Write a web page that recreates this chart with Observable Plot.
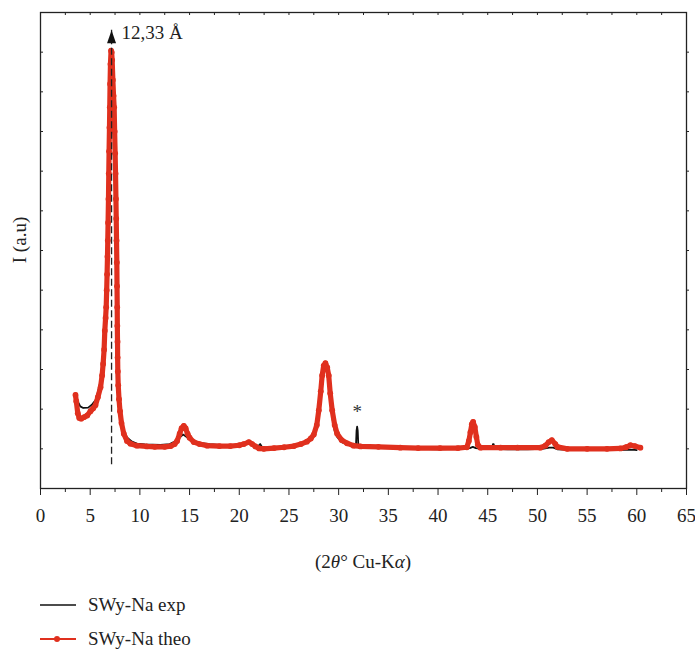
<!DOCTYPE html>
<html>
<head>
<meta charset="utf-8">
<script src="https://cdn.jsdelivr.net/npm/d3@7"></script>
<script src="https://cdn.jsdelivr.net/npm/@observablehq/plot@0.6"></script>
<style>
  html, body { margin: 0; padding: 0; background: #fff; }
  #wrap { position: relative; width: 695px; height: 650px; font-family: "Liberation Serif", "DejaVu Serif", serif; }
  .lg { position: absolute; left: 40px; height: 24px; display: flex; align-items: center; font-size: 19px; color: #222; }
  .lg span { margin-left: 12px; }
</style>
</head>
<body>
<div id="wrap"></div>
<script>
// ---- data (2θ in degrees, intensity in arbitrary units) ----
const theoX = [3.52,3.6,3.75,3.9,4.09,4.4,4.7,5.03,5.3,5.53,5.77,6.04,6.2,6.3,6.4,6.47,6.55,6.61,6.66,6.7,6.74,6.77,6.8,6.84,6.87,6.9,6.94,6.97,7.0,7.04,7.1,7.16,7.21,7.28,7.35,7.41,7.46,7.51,7.55,7.59,7.62,7.65,7.68,7.7,7.72,7.73,7.75,7.76,7.78,7.82,7.9,8.0,8.15,8.38,8.7,9.05,9.7,10.7,11.5,12.5,13.1,13.5,13.75,14.0,14.2,14.42,14.6,14.8,15.0,15.43,16.0,16.77,18.0,19.1,20.0,20.45,20.96,21.3,21.63,22.0,22.47,23.5,24.5,25.5,26.2,26.8,27.2,27.5,27.8,28.0,28.2,28.34,28.5,28.67,28.85,29.0,29.15,29.35,29.6,29.85,30.3,30.85,31.5,32.2,34.0,36.2,38.0,40.2,42.0,42.9,43.1,43.26,43.4,43.53,43.7,43.86,44.0,44.27,46.3,48.0,50.3,50.8,51.14,51.45,51.8,52.0,53.0,55.0,57.0,58.35,58.9,59.36,59.8,60.36];
const theoY = [2.36,2.2,1.9,1.78,1.76,1.8,1.84,1.95,2.02,2.1,2.3,2.55,2.85,3.14,3.5,3.98,4.3,4.57,5.0,5.4,5.85,6.25,6.7,7.3,7.94,8.5,9.1,9.61,10.2,10.7,11.04,11.0,10.8,10.3,9.9,9.61,9.0,8.45,7.94,7.3,6.8,6.25,5.7,5.1,4.57,4.1,3.7,3.3,2.95,2.6,2.25,1.95,1.65,1.38,1.2,1.13,1.08,1.06,1.05,1.05,1.07,1.12,1.2,1.38,1.52,1.58,1.52,1.38,1.28,1.17,1.12,1.08,1.07,1.07,1.09,1.12,1.17,1.12,1.06,1.01,1.0,1.02,1.04,1.07,1.12,1.18,1.26,1.36,1.6,1.97,2.45,2.85,3.1,3.16,3.05,2.85,2.4,1.97,1.6,1.38,1.22,1.14,1.08,1.06,1.05,1.03,1.02,1.02,1.02,1.04,1.2,1.42,1.62,1.68,1.55,1.3,1.1,1.03,1.03,1.03,1.03,1.08,1.17,1.22,1.12,1.05,1.0,1.0,1.0,1.01,1.04,1.09,1.07,1.03];

const expX = [3.55,3.7,4.0,4.3,4.8,5.2,5.53,5.8,6.04,6.3,6.47,6.61,6.77,6.87,6.97,7.04,7.1,7.21,7.41,7.55,7.65,7.72,7.76,7.82,7.95,8.1,8.38,8.7,9.2,9.7,10.5,12.07,13.0,13.4,13.9,14.2,14.35,14.6,15.0,15.4,16.0,17.0,18.0,19.0,20.0,20.5,21.0,21.5,21.9,22.1,22.3,23.0,24.5,25.5,26.2,26.8,27.2,27.5,27.8,28.0,28.2,28.34,28.5,28.67,28.85,29.0,29.15,29.35,29.6,29.85,30.3,30.85,31.5,31.74,31.8,31.86,31.92,31.98,32.5,34.0,36.0,38.0,40.0,42.0,43.2,43.5,43.8,44.5,45.45,45.52,45.6,45.67,47.0,49.0,50.5,51.2,51.6,52.0,54.0,56.0,58.0,59.5,60.0];
const expY = [2.3,2.22,2.07,2.03,2.04,2.12,2.22,2.45,2.72,3.2,3.98,4.57,6.25,7.94,9.61,10.7,11.0,10.8,9.6,7.94,6.25,4.57,3.3,2.6,2.15,1.8,1.45,1.29,1.18,1.13,1.11,1.1,1.12,1.17,1.25,1.33,1.36,1.32,1.25,1.21,1.15,1.12,1.1,1.08,1.09,1.13,1.15,1.1,1.07,1.12,1.04,1.01,1.03,1.06,1.1,1.15,1.22,1.32,1.55,1.9,2.45,2.85,3.1,3.16,3.05,2.8,2.3,1.8,1.45,1.3,1.17,1.11,1.07,1.07,1.45,1.56,1.45,1.07,1.05,1.04,1.02,1.0,0.99,1.0,1.02,1.05,1.02,1.0,1.0,1.12,1.12,1.0,0.99,0.99,1.0,1.03,1.03,0.99,0.97,0.97,0.97,0.98,0.97];

const seriesNames = ["SWy-Na exp", "SWy-Na theo"];
const xMajorTicks = [0,5,10,15,20,25,30,35,40,45,50,55,60,65];
const xMinorTicks = [2.5,7.5,12.5,17.5,22.5,27.5,32.5,37.5,42.5,47.5,52.5,57.5,62.5];
const yTicks = [1,2,3,4,5,6,7,8,9,10,11];
const peakLabel = ["12,33 Å"];
const peakX = [7.15];
const peakYBase = [0.85];
const peakYTip = [11.55];
const starX = [31.86];
const starY = [1.92];
const xLabelParts = [["(2", false], ["θ", true], ["° Cu-K", false], ["α", true], [")", false]];
const yLabel = "I (a.u)";

const red = "#e0301e";
const theo = theoX.map((x, i) => ({x, y: theoY[i]}));
const exp = expX.map((x, i) => ({x, y: expY[i]}));
const peak = [{x: peakX[0], y0: peakYBase[0], y1: peakYTip[0], label: peakLabel[0]}];
const star = [{x: starX[0], y: starY[0]}];

const arrowHead = {
  draw(ctx) {
    ctx.moveTo(0, 0);
    ctx.lineTo(-4.5, 13);
    ctx.lineTo(4.5, 13);
    ctx.closePath();
  }
};

const W = 695, H = 580, mL = 40, mR = 9, mT = 12, mB = 92;
const innerW = W - mL - mR, innerH = H - mT - mB;

const chart = Plot.plot({
  width: W, height: H,
  marginLeft: mL, marginRight: mR, marginTop: mT, marginBottom: mB,
  style: {fontFamily: "Liberation Serif", fontSize: "19px", background: "white", color: "#222"},
  x: {domain: [0, 65]},
  y: {domain: [0, 12]},
  marks: [
    Plot.line(exp, {x: "x", y: "y", stroke: "#111", strokeWidth: 1.8, curve: "linear"}),
    Plot.line(theo, {x: "x", y: "y", stroke: red, strokeWidth: 5.2, strokeLinejoin: "round", strokeLinecap: "round"}),
    Plot.dot(theo, {x: "x", y: "y", r: 2.9, fill: red, stroke: null}),
    Plot.ruleX(peak, {x: "x", y1: "y0", y2: "y1", stroke: "#222", strokeWidth: 1.3, strokeDasharray: "7,3.5", insetTop: 10}),
    Plot.dot(peak, {x: "x", y: "y1", symbol: arrowHead, fill: "#111", stroke: null}),
    Plot.text(peak, {x: "x", y: "y1", text: "label", textAnchor: "start", dx: 10, dy: 3, fontSize: 19, fill: "#222"}),
    Plot.text(star, {x: "x", y: "y", text: () => "*", fontSize: 19, fill: "#333"}),
    Plot.frame({stroke: "#222", strokeWidth: 1.3}),
    Plot.axisX({ticks: xMajorTicks, tickSize: 7, tickPadding: 13, label: null, tickFormat: d => String(d), fontSize: 19}),
    Plot.axisX({ticks: xMinorTicks, tickSize: 4, label: null, tickFormat: () => ""}),
    Plot.tickX(xMajorTicks.concat(xMinorTicks), {x: d => d, insetBottom: innerH - 3, stroke: "#222"}),
    Plot.tickY(yTicks, {y: d => d, insetRight: innerW - 3, stroke: "#222"}),
    Plot.axisY({anchor: "right", ticks: yTicks, tickSize: 2, label: null, tickFormat: () => ""}),
    Plot.axisY({anchor: "left", ticks: [], label: null})
  ]
});

const svg = d3.select(chart);
const xl = svg.append("text")
  .attr("x", mL + innerW / 2).attr("y", 568)
  .attr("text-anchor", "middle")
  .attr("font-family", "Liberation Serif").attr("font-size", 19).attr("fill", "#222");
xLabelParts.forEach(([t, it]) => xl.append("tspan").text(t).attr("font-style", it ? "italic" : "normal"));
svg.append("text")
  .attr("transform", "translate(26,240) rotate(-90)")
  .attr("text-anchor", "middle")
  .attr("font-family", "Liberation Serif").attr("font-size", 19).attr("fill", "#222")
  .text(yLabel);

const wrap = document.getElementById("wrap");
wrap.appendChild(chart);

const rows = [
  {name: seriesNames[0], color: "#111", dot: false, top: 593},
  {name: seriesNames[1], color: red, dot: true, top: 627}
];
rows.forEach(r => {
  const d = document.createElement("div");
  d.className = "lg";
  d.style.top = r.top + "px";
  d.innerHTML = `<svg width="36" height="24"><line x1="0" x2="36" y1="12" y2="12" stroke="${r.color}" stroke-width="${r.dot ? 2 : 1.6}"/>${r.dot ? `<circle cx="17" cy="12" r="3" fill="${r.color}"/>` : ""}</svg><span>${r.name}</span>`;
  wrap.appendChild(d);
});
</script>
</body>
</html>
